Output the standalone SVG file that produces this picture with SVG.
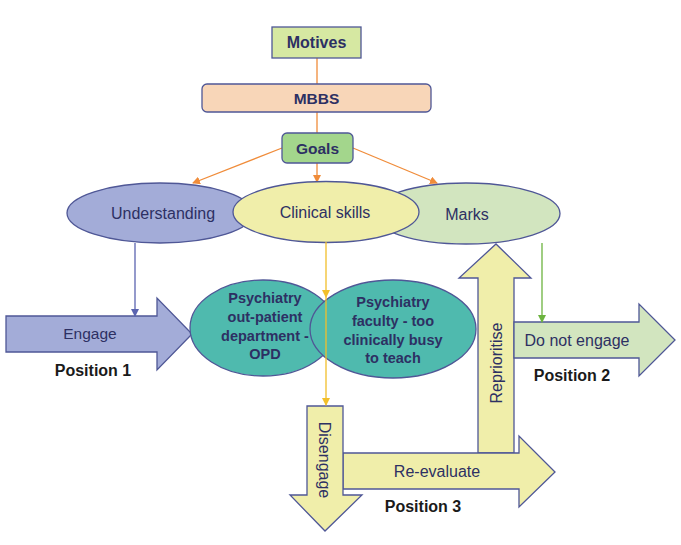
<svg xmlns="http://www.w3.org/2000/svg" width="681" height="545" viewBox="0 0 681 545">
<defs>
<style>
.box{stroke:#4f5796;stroke-width:1.3}
.lbl{font-family:"Liberation Sans",Arial,sans-serif;fill:#2d3063;text-anchor:middle;dominant-baseline:central}
.b{font-weight:bold}
.pos{font-family:"Liberation Sans",Arial,sans-serif;font-weight:bold;font-size:16px;fill:#1a1a1a;text-anchor:middle;dominant-baseline:central}
.ln{fill:none;stroke-width:1.3}
</style>
<marker id="mo" markerWidth="8" markerHeight="8" refX="7" refY="4" orient="auto" markerUnits="userSpaceOnUse"><path d="M0,0 L8,4 L0,8 z" fill="#f08c3a"/></marker>
<marker id="mb" markerWidth="8" markerHeight="8" refX="7" refY="4" orient="auto" markerUnits="userSpaceOnUse"><path d="M0,0 L8,4 L0,8 z" fill="#5b64b0"/></marker>
<marker id="my" markerWidth="8" markerHeight="8" refX="7" refY="4" orient="auto" markerUnits="userSpaceOnUse"><path d="M0,0 L8,4 L0,8 z" fill="#f2bf2a"/></marker>
<marker id="mg" markerWidth="8" markerHeight="8" refX="7" refY="4" orient="auto" markerUnits="userSpaceOnUse"><path d="M0,0 L8,4 L0,8 z" fill="#6cb33f"/></marker>
</defs>
<rect width="681" height="545" fill="#ffffff"/>

<g id="connectors-top">
<line class="ln" x1="317" y1="58" x2="317" y2="84" stroke="#f08c3a"/>
<line class="ln" x1="317" y1="112" x2="317" y2="133" stroke="#f08c3a"/>
<line class="ln" x1="282" y1="148" x2="193" y2="183" stroke="#f08c3a" marker-end="url(#mo)"/>
<line class="ln" x1="317" y1="163" x2="317" y2="182" stroke="#f08c3a" marker-end="url(#mo)"/>
<line class="ln" x1="353" y1="148" x2="437" y2="183" stroke="#f08c3a" marker-end="url(#mo)"/>
</g>

<g id="motives">
<rect class="box" x="272" y="27" width="89" height="31" fill="#d6e8a2"/>
<text class="lbl b" x="316.5" y="42.5" font-size="16">Motives</text>
</g>
<g id="mbbs">
<rect class="box" x="202" y="84" width="229" height="28" rx="5" fill="#f8d6b8"/>
<text class="lbl b" x="316.5" y="98" font-size="15.5">MBBS</text>
</g>
<g id="goals">
<rect class="box" x="282" y="133" width="71" height="30" rx="5" fill="#a3d68c"/>
<text class="lbl b" x="317.5" y="148" font-size="15.5">Goals</text>
</g>

<g id="understanding">
<ellipse class="box" cx="160" cy="213" rx="93" ry="30" fill="#a3acd8"/>
<text class="lbl" x="163" y="213" font-size="16">Understanding</text>
</g>
<g id="marks">
<ellipse class="box" cx="466" cy="213.5" rx="94" ry="30.5" fill="#d2e5bf"/>
<text class="lbl" x="467" y="214" font-size="16">Marks</text>
</g>
<g id="clinical-skills">
<ellipse class="box" cx="326" cy="212" rx="93" ry="30.5" fill="#f0eeaa"/>
<text class="lbl" x="325" y="212" font-size="16">Clinical skills</text>
</g>

<g id="engage">
<polygon class="box" points="6,316 157,316 157,298 192,334 157,370 157,352 6,352" fill="#a3acd8"/>
<text class="lbl" x="90" y="333" font-size="15.5">Engage</text>
<text class="pos" x="93" y="370">Position 1</text>
</g>

<g id="opd">
<ellipse class="box" cx="263" cy="328" rx="73" ry="48" fill="#4fbaae"/>
<text class="lbl b" font-size="14.5" x="265"><tspan x="265" y="298">Psychiatry</tspan><tspan x="265" y="317">out-patient</tspan><tspan x="265" y="335.5">department -</tspan><tspan x="265" y="354">OPD</tspan></text>
</g>
<g id="faculty">
<ellipse class="box" cx="393" cy="329" rx="83" ry="49" fill="#4fbaae"/>
<text class="lbl b" font-size="14.5" x="393"><tspan x="393" y="302">Psychiatry</tspan><tspan x="393" y="321">faculty - too</tspan><tspan x="393" y="339.5">clinically busy</tspan><tspan x="393" y="358">to teach</tspan></text>
</g>

<g id="reprioritise">
<polygon class="box" points="478,453 478,278 459,278 496,244 531,278 514,278 514,453" fill="#f0eeaa"/>
<text class="lbl" x="0" y="0" font-size="16" transform="translate(496,363) rotate(-90)">Reprioritise</text>
</g>
<g id="do-not-engage">
<polygon class="box" points="514,322 639,322 639,304 675,340 639,376 639,358 514,358" fill="#d2e5bf"/>
<text class="lbl" x="577" y="340" font-size="16">Do not engage</text>
<text class="pos" x="572" y="375">Position 2</text>
</g>
<g id="re-evaluate">
<polygon class="box" points="343,453 519,453 519,436 555,472 519,507 519,489 343,489" fill="#f0eeaa"/>
<text class="lbl" x="437" y="471" font-size="16">Re-evaluate</text>
<text class="pos" x="423" y="506">Position 3</text>
</g>
<g id="disengage">
<polygon class="box" points="307,406 343,406 343,495 362,495 325,531 290,495 307,495" fill="#f0eeaa"/>
<text class="lbl" x="0" y="0" font-size="16" transform="translate(324,460) rotate(90)">Disengage</text>
</g>

<g id="connectors">
<line class="ln" x1="135" y1="243" x2="135" y2="316" stroke="#5b64b0" marker-end="url(#mb)"/>
<line class="ln" x1="326" y1="242" x2="326" y2="297" stroke="#f2bf2a" marker-end="url(#my)"/>
<line class="ln" x1="326" y1="297" x2="326" y2="405" stroke="#f2bf2a" marker-end="url(#my)"/>
<line class="ln" x1="542" y1="243" x2="542" y2="322" stroke="#6cb33f" marker-end="url(#mg)"/>
</g>
</svg>
